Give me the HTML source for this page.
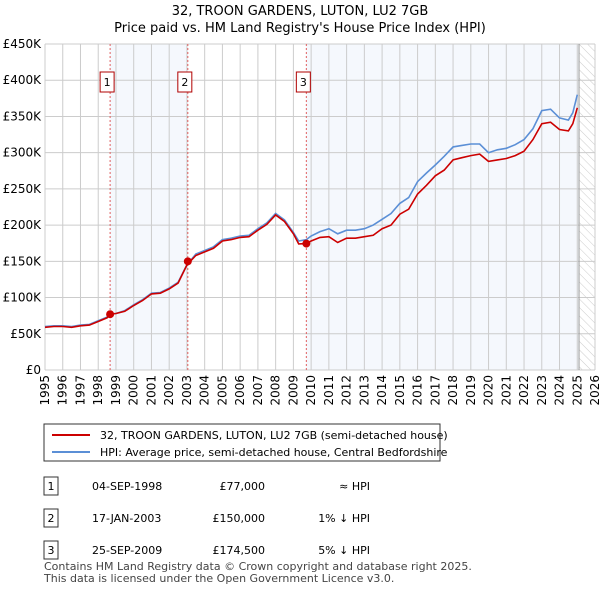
<!DOCTYPE html>
<html><head><meta charset="utf-8"><style>
body{margin:0;background:#fff;font-family:"Liberation Sans","DejaVu Sans",sans-serif;}
svg text{font-family:"DejaVu Sans","Liberation Sans",sans-serif;}
</style></head><body>
<svg id="chart" width="600" height="590" xmlns="http://www.w3.org/2000/svg">
<defs><pattern id="hatch" width="6" height="6" patternUnits="userSpaceOnUse" patternTransform="rotate(-45)"><line x1="0" y1="0" x2="0" y2="6" stroke="#ccc" stroke-width="1"/></pattern></defs>
<text x="300" y="15" text-anchor="middle" font-size="13">32, TROON GARDENS, LUTON, LU2 7GB</text>
<text x="300" y="32" text-anchor="middle" font-size="13">Price paid vs. HM Land Registry's House Price Index (HPI)</text>
<g id="bg"></g><g id="grid"></g><g id="axes"></g><g id="lines"></g><g id="marks"></g>
<g>
<rect x="44" y="424" width="396" height="37" fill="#fff" stroke="#333"/>
<line x1="52" y1="435" x2="90" y2="435" stroke="#cc0000" stroke-width="2"/>
<text x="100" y="439" font-size="11">32, TROON GARDENS, LUTON, LU2 7GB (semi-detached house)</text>
<line x1="52" y1="452" x2="90" y2="452" stroke="#5b8fd6" stroke-width="2"/>
<text x="100" y="456" font-size="11">HPI: Average price, semi-detached house, Central Bedfordshire</text>
</g>
<g id="table" font-size="11"></g>
<text x="44" y="570" font-size="11" fill="#444">Contains HM Land Registry data © Crown copyright and database right 2025.</text>
<text x="44" y="582" font-size="11" fill="#444">This data is licensed under the Open Government Licence v3.0.</text>
</svg>
<script>
const hpiYears=[1995,1995.5,1996,1996.5,1997,1997.5,1998,1998.5,1998.67,1999,1999.5,2000,2000.5,2001,2001.5,2002,2002.5,2003,2003.5,2004,2004.5,2005,2005.5,2006,2006.5,2007,2007.5,2008,2008.5,2009,2009.3,2009.73,2010,2010.5,2011,2011.5,2012,2012.5,2013,2013.5,2014,2014.5,2015,2015.5,2016,2016.5,2017,2017.5,2018,2018.5,2019,2019.5,2020,2020.5,2021,2021.5,2022,2022.5,2023,2023.5,2024,2024.5,2024.75,2025];
const hpiValues=[60,61,61,60,62,63,68,73,77,78,82,90,97,106,107,113,121,145,160,165,170,180,182,185,186,195,203,216,207,190,178,180,185,191,195,188,193,193,195,200,208,216,230,238,260,272,283,295,308,310,312,312,300,304,306,311,318,333,358,360,348,345,355,380];
const priceValues=[59,60,60,59,61,62,67,72,77,78,81,89,96,105,106,112,120,145,158,163,168,178,180,183,184,193,201,214,205,188,174,174.5,178,183,184,176,182,182,184,186,195,200,215,222,243,255,268,276,290,293,296,298,288,290,292,296,302,318,340,342,332,330,340,362];
const saleYears=[1998.67,2003.05,2009.73];
const salePrices=[77,150,174.5];
const saleLabels=["1","2","3"];
const saleDates=["04-SEP-1998","17-JAN-2003","25-SEP-2009"];
const salePriceText=["£77,000","£150,000","£174,500"];
const saleHpiText=["≈ HPI","1% ↓ HPI","5% ↓ HPI"];
const yTicks=[0,50,100,150,200,250,300,350,400,450];
const yTickLabels=["£0","£50K","£100K","£150K","£200K","£250K","£300K","£350K","£400K","£450K"];
const xTicks=[1995,1996,1997,1998,1999,2000,2001,2002,2003,2004,2005,2006,2007,2008,2009,2010,2011,2012,2013,2014,2015,2016,2017,2018,2019,2020,2021,2022,2023,2024,2025,2026];
const dataEnd=2025.1;
const X0=45,X1=595,Y0=370,Y1=44;
const x=v=>X0+(v-1995)/(2026-1995)*(X1-X0);
const y=v=>Y0-v/450*(Y0-Y1);
const NS="http://www.w3.org/2000/svg";
function mk(p,t,a){const e=document.createElementNS(NS,t);for(const k in a)e.setAttribute(k,a[k]);document.getElementById(p).appendChild(e);return e;}
let e;
e=mk('bg','rect',{x:x(saleYears[0]),y:Y1,width:x(saleYears[1])-x(saleYears[0]),height:Y0-Y1,fill:'#eef3fc',opacity:0.6});


e=mk('bg','rect',{x:x(saleYears[2]),y:Y1,width:x(dataEnd)-x(saleYears[2]),height:Y0-Y1,fill:'#eef3fc',opacity:0.6});


e=mk('bg','rect',{x:x(dataEnd),y:Y1,width:X1-x(dataEnd),height:Y0-Y1,fill:'url(#hatch)'});


yTicks.forEach((t,i)=>{
 e=mk('grid','line',{x1:X0,x2:X1,y1:y(t),y2:y(t),stroke:'#ccc'});
 
 
 e=mk('axes','text',{x:X0-4,y:y(t)+4,'text-anchor':'end','font-size':12});e.textContent=yTickLabels[i];
 
 
});
xTicks.forEach(t=>{
 e=mk('grid','line',{x1:x(t),x2:x(t),y1:Y1,y2:Y0,stroke:'#ccc'});
 
 
 e=mk('axes','text',{x:0,y:0,'text-anchor':'end','font-size':12,transform:`translate(${x(t)+4},${Y0+5}) rotate(-90)`});e.textContent=t;
 
 
});
e=mk('grid','line',{x1:x(dataEnd),x2:x(dataEnd),y1:Y1,y2:Y0,stroke:'#999'});


saleYears.forEach((s,i)=>{
 e=mk('grid','line',{x1:x(s),x2:x(s),y1:Y1,y2:Y0,stroke:'#e06060','stroke-dasharray':'2,2'});
 
 
 e=mk('marks','rect',{x:x(s)-10,y:72,width:14,height:20,fill:'#fff',stroke:'#b00000'});
 
 
 e=mk('marks','text',{x:x(s)-3,y:86,'text-anchor':'middle','font-size':11});e.textContent=saleLabels[i];
 
 
});
const pts=(vals)=>hpiYears.map((t,i)=>x(t).toFixed(1)+','+y(vals[i]).toFixed(1)).join(' ');
e=mk('lines','polyline',{points:pts(hpiValues),fill:'none',stroke:'#5b8fd6','stroke-width':1.6});


e=mk('lines','polyline',{points:pts(priceValues),fill:'none',stroke:'#cc0000','stroke-width':1.6});


saleYears.forEach((s,i)=>{
 e=mk('marks','circle',{cx:x(s),cy:y(salePrices[i]),r:4,fill:'#cc0000'});
 
 
});
saleYears.forEach((s,i)=>{
 const ry=477+i*32;
 e=mk('table','rect',{x:44,y:ry,width:14,height:18,fill:'#fff',stroke:'#333'});
 
 
 e=mk('table','text',{x:51,y:ry+13,'text-anchor':'middle'});e.textContent=saleLabels[i];
 
 
 e=mk('table','text',{x:92,y:ry+13});e.textContent=saleDates[i];
 
 
 e=mk('table','text',{x:265,y:ry+13,'text-anchor':'end'});e.textContent=salePriceText[i];
 
 
 e=mk('table','text',{x:370,y:ry+13,'text-anchor':'end'});e.textContent=saleHpiText[i];
 
 
});
</script>
</body></html>
